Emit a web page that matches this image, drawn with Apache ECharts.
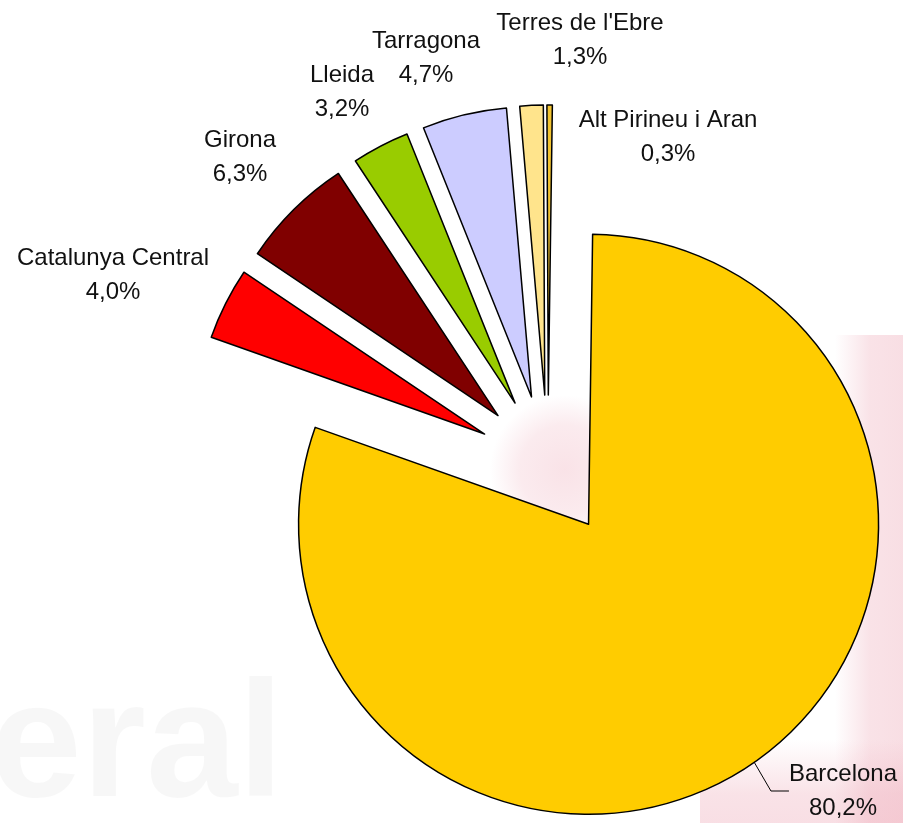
<!DOCTYPE html>
<html>
<head>
<meta charset="utf-8">
<script src="https://cdn.jsdelivr.net/npm/echarts@6/dist/echarts.min.js"></script>
<style>
html,body{margin:0;padding:0;background:#fff;}
#chart{width:903px;height:823px;}
</style>
</head>
<body>
<div id="chart"></div>
<script>
// dades (percentatges)
var categories = ['Barcelona', 'Catalunya Central', 'Girona', 'Lleida', 'Tarragona', "Terres de l'Ebre", 'Alt Pirineu i Aran'];
var values = [80.2, 4.0, 6.3, 3.2, 4.7, 1.3, 0.3];
var colors = ['#FFCC00', '#FF0000', '#800000', '#99CC00', '#CCCCFF', '#FFE48C', '#F2C431'];

// posicions de les etiquetes (centre del bloc de text)
var labelPos = [[843, 791], [113, 275], [240, 157], [342, 92], [426, 58], [580, 40], [668, 137]];

var CX = 548, CY = 466, R = 290, START = 89.2, EXPLODE = 71;

var chart = echarts.init(document.getElementById('chart'));

var total = 0;
for (var i = 0; i < values.length; i++) total += values[i];

var PINK = 'rgba(236,160,176,';
function pinkGlow(a) {
	return new echarts.graphic.RadialGradient(0.5, 0.5, 0.5, [
		{offset: 0, color: PINK + a + ')'},
		{offset: 0.6, color: PINK + (a * 0.7) + ')'},
		{offset: 1, color: PINK + '0)'}
	]);
}

// una serie per porcio, desplaçada segons l'angle mig
var series = [];
var acc = 0;
for (var k = 0; k < values.length; k++) {
	var mid = (START - (acc + values[k] / 2) / total * 360) * Math.PI / 180;
	acc += values[k];
	var data = [];
	for (var j = 0; j < categories.length; j++) {
		var on = (j == k);
		data.push({
			name: categories[j],
			value: values[j],
			itemStyle: on ? {color: colors[j], borderColor: '#000', borderWidth: 1.5}
				: {color: 'rgba(0,0,0,0)', borderWidth: 0},
			label: {show: on},
			labelLine: {show: on && j == 0}
		});
	}
	series.push({
		type: 'pie',
		center: [CX + EXPLODE * Math.cos(mid), CY - EXPLODE * Math.sin(mid)],
		radius: R,
		startAngle: START,
		clockwise: true,
		silent: true,
		emphasis: {disabled: true},
		label: {
			position: 'outside',
			color: '#111',
			fontFamily: '"Liberation Sans", Arial, sans-serif',
			fontSize: 24,
			lineHeight: 34,
			align: 'center',
			overflow: 'none',
			formatter: function(p) {
				return p.name + '\n' + p.value.toFixed(1).replace('.', ',') + '%';
			}
		},
		labelLine: {
			length: 24,
			length2: 18,
			lineStyle: {color: '#000', width: 1}
		},
		labelLayout: function(params) {
			var pos = labelPos[params.dataIndex];
			return {x: pos[0], y: pos[1], align: 'center', verticalAlign: 'middle'};
		},
		data: data
	});
}

var opt = {
	animation: false,
	backgroundColor: '#fff',
	graphic: [{
		type: 'text', z: -10, left: -10, top: 668, silent: true,
		style: {
			text: 'eral',
			font: 'bold 165px "Liberation Sans", Arial, sans-serif',
			fill: 'rgba(0,0,0,0.03)',
			shadowBlur: 14, shadowColor: 'rgba(0,0,0,0.05)'
		}
	}, {
		type: 'rect', z: -10, silent: true,
		shape: {x: 835, y: 335, width: 70, height: 490},
		style: {fill: new echarts.graphic.LinearGradient(0, 0, 1, 0, [
			{offset: 0, color: PINK + '0)'},
			{offset: 0.5, color: PINK + '0.3)'},
			{offset: 1, color: PINK + '0.35)'}
		])}
	}, {
		type: 'rect', z: -10, silent: true,
		shape: {x: 700, y: 740, width: 210, height: 90},
		style: {fill: new echarts.graphic.LinearGradient(0, 0, 0, 1, [
			{offset: 0, color: PINK + '0)'},
			{offset: 0.6, color: PINK + '0.3)'},
			{offset: 1, color: PINK + '0.35)'}
		])}
	}, {
		type: 'circle', z: -10, silent: true,
		shape: {cx: 565, cy: 470, r: 75},
		style: {fill: pinkGlow(0.3)}
	}],
	series: series
};
chart.setOption(opt, true);
</script>
</body>
</html>
